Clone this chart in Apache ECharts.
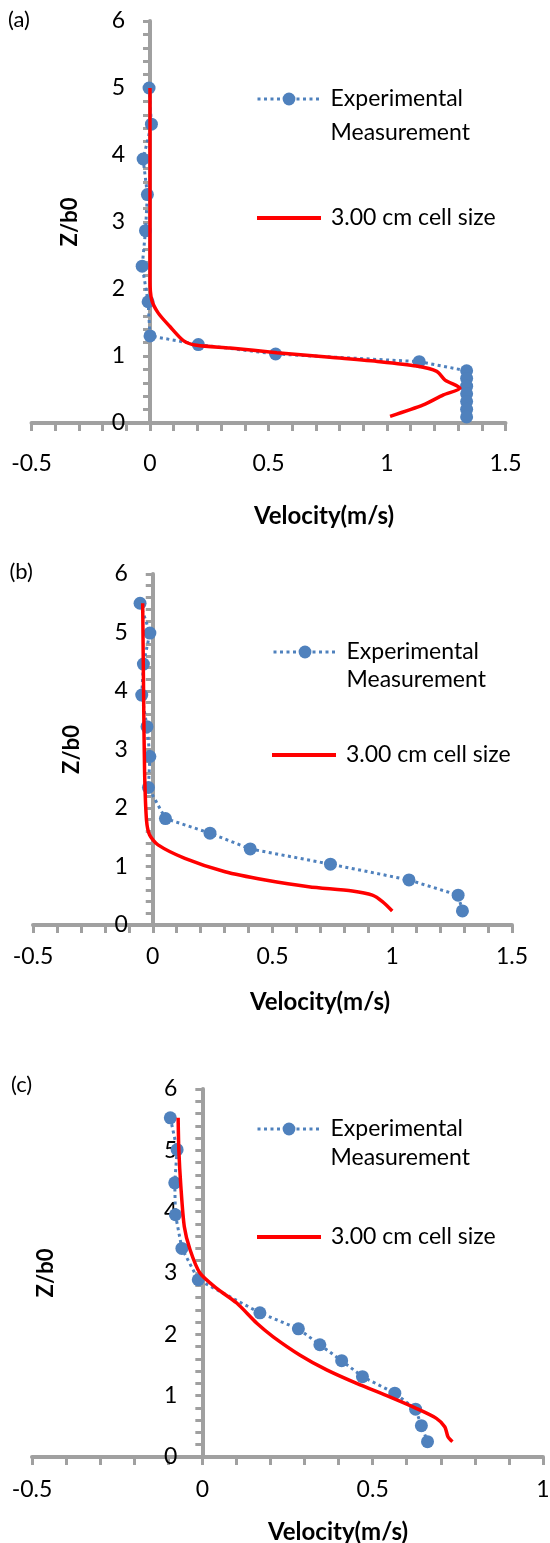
<!DOCTYPE html>
<html>
<head>
<meta charset="utf-8">
<script src="https://cdn.jsdelivr.net/npm/echarts@6/dist/echarts.min.js"></script>
<style>
html,body{margin:0;padding:0;background:#fff;}
#chart{width:550px;height:1543px;}
</style>
</head>
<body>
<div id="chart"></div>
<script>
// ---------------- data ----------------
const panelLabels = ['(a)', '(b)', '(c)'];
const seriesNames = ['Experimental Measurement', '3.00 cm cell size'];
const xTitle = 'Velocity(m/s)';
const yTitle = 'Z/b0';

const xTicksAB = [-0.5, 0, 0.5, 1, 1.5];
const xTicksC = [-0.5, 0, 0.5, 1];
const yTicks = [0, 1, 2, 3, 4, 5, 6];

// panel (a)
const expA_v = [-0.004, 0.006, -0.029, -0.011, -0.019, -0.033, -0.008, 0.0, 0.204, 0.53, 1.136, 1.336, 1.336, 1.336, 1.336, 1.336, 1.336, 1.336];
const expA_z = [5.0, 4.46, 3.94, 3.41, 2.87, 2.34, 1.81, 1.30, 1.17, 1.03, 0.915, 0.78, 0.665, 0.55, 0.435, 0.32, 0.205, 0.09];
const simA_v = [0, 0, 0, 0, 0.007, 0.035, 0.084, 0.141, 0.197, 0.338, 0.535, 0.76, 0.97, 1.125, 1.21, 1.245, 1.308, 1.238, 1.153, 1.013];
const simA_z = [5.0, 4.0, 3.0, 2.13, 1.84, 1.64, 1.44, 1.23, 1.16, 1.12, 1.05, 0.98, 0.915, 0.85, 0.77, 0.64, 0.52, 0.42, 0.27, 0.10];

// panel (b)
const expB_v = [-0.053, -0.012, -0.039, -0.046, -0.024, -0.012, -0.018, 0.053, 0.239, 0.407, 0.742, 1.07, 1.275, 1.293];
const expB_z = [5.50, 4.99, 4.46, 3.93, 3.39, 2.88, 2.35, 1.82, 1.57, 1.30, 1.04, 0.77, 0.51, 0.24];
const simB_v = [-0.042, -0.038, -0.034, -0.026, -0.013, 0.022, 0.134, 0.302, 0.47, 0.651, 0.833, 0.917, 0.959, 1.0];
const simB_z = [5.5, 3.85, 2.6, 1.79, 1.54, 1.37, 1.14, 0.91, 0.77, 0.655, 0.58, 0.51, 0.40, 0.24];

// panel (c)
const expC_v = [-0.094, -0.074, -0.081, -0.079, -0.06, -0.012, 0.169, 0.282, 0.345, 0.409, 0.47, 0.565, 0.626, 0.643, 0.661];
const expC_z = [5.53, 5.01, 4.47, 3.95, 3.40, 2.89, 2.35, 2.09, 1.83, 1.57, 1.31, 1.04, 0.78, 0.51, 0.25];
const simC_v = [-0.071, -0.069, -0.063, -0.053, -0.036, -0.007, 0.042, 0.101, 0.16, 0.208, 0.287, 0.365, 0.453, 0.55, 0.629, 0.687, 0.712, 0.721, 0.734];
const simC_z = [5.53, 5.01, 4.41, 3.76, 3.38, 3.0, 2.75, 2.51, 2.18, 1.96, 1.66, 1.42, 1.20, 0.98, 0.79, 0.63, 0.49, 0.33, 0.25];

// ---------------- styling/layout ----------------
const FONT = 'Lato';
const AXIS_GRAY = '#A0A0A0';
const BLUE = '#4F81BD';
const RED = '#FF0000';

const zip = (a, b) => a.map((v, i) => [v, b[i]]);

const panels = [
  { grid: {left: 31.5, top: 21, width: 474, height: 402}, xTicks: xTicksAB, xLabelMargin: 29,
    xNameGap: 79, xNamePad: 111, yNameGap: 66,
    exp: zip(expA_v, expA_z), sim: zip(simA_v, simA_z),
    title: {left: 8, top: 8},
    leg1: {left: 256, y: 99, lh: 34}, leg2: {left: 257, y: 218} },
  { grid: {left: 33, top: 574, width: 479, height: 351}, xTicks: xTicksAB, xLabelMargin: 20,
    xNameGap: 63, xNamePad: 95, yNameGap: 66.5,
    exp: zip(expB_v, expB_z), sim: zip(simB_v, simB_z),
    title: {left: 9.5, top: 560},
    leg1: {left: 272, y: 652, lh: 28}, leg2: {left: 272, y: 755} },
  { grid: {left: 32, top: 1089, width: 511, height: 368}, xTicks: xTicksC, xLabelMargin: 21,
    xNameGap: 61, xNamePad: 101, yNameGap: 142,
    exp: zip(expC_v, expC_z), sim: zip(simC_v, simC_z),
    title: {left: 11, top: 1073},
    leg1: {left: 256, y: 1129, lh: 29}, leg2: {left: 257, y: 1237} }
];

const option = {
  animation: false,
  backgroundColor: '#ffffff',
  textStyle: {fontFamily: FONT},
  title: [], grid: [], xAxis: [], yAxis: [], series: [], legend: []
};

panels.forEach((p, i) => {
  option.title.push({
    text: panelLabels[i], left: p.title.left, top: p.title.top, padding: 0,
    textStyle: {fontFamily: FONT, fontSize: 22, fontWeight: 'normal', color: '#000', lineHeight: 24}
  });
  option.grid.push(Object.assign({outerBoundsMode: 'none', containLabel: false}, p.grid));
  const xt = p.xTicks;
  const xMin = xt[0], xMax = xt[xt.length - 1];
  // y axis sits where x = 0: shift it from the grid's left edge to that spot
  const yAxisShift = -p.grid.width * (0 - xMin) / (xMax - xMin);
  option.xAxis.push({
    type: 'value', gridIndex: i,
    min: xMin, max: xMax, interval: xt[1] - xt[0],
    axisLine: {show: true, onZero: true, lineStyle: {color: AXIS_GRAY, width: 4}},
    axisTick: {show: true, length: 8, lineStyle: {color: AXIS_GRAY, width: 3}},
    minorTick: {show: true, splitNumber: 5, length: 8, lineStyle: {color: AXIS_GRAY, width: 3}},
    splitLine: {show: false}, minorSplitLine: {show: false},
    axisLabel: {fontFamily: FONT, fontSize: 23, color: '#000', margin: p.xLabelMargin,
      formatter: v => { const k = xt.findIndex(t => Math.abs(t - v) < 1e-9); return k >= 0 ? String(xt[k]) : ''; }},
    name: xTitle, nameLocation: 'middle', nameGap: p.xNameGap, nameMoveOverlap: false,
    nameTextStyle: {fontFamily: FONT, fontSize: 24, fontWeight: 'bold', color: '#000', lineHeight: 28,
      padding: [0, 0, 0, p.xNamePad]}
  });
  option.yAxis.push({
    type: 'value', gridIndex: i, position: 'left', offset: yAxisShift,
    min: yTicks[0], max: yTicks[yTicks.length - 1], interval: yTicks[1] - yTicks[0],
    axisLine: {show: true, onZero: false, lineStyle: {color: AXIS_GRAY, width: 4}},
    axisTick: {show: true, length: 7, lineStyle: {color: AXIS_GRAY, width: 3}},
    minorTick: {show: true, splitNumber: 5, length: 7, lineStyle: {color: AXIS_GRAY, width: 3}},
    splitLine: {show: false}, minorSplitLine: {show: false},
    axisLabel: {fontFamily: FONT, fontSize: 23, color: '#000', margin: 25},
    name: yTitle, nameLocation: 'middle', nameRotate: 90, nameGap: p.yNameGap, nameMoveOverlap: false,
    nameTextStyle: {fontFamily: FONT, fontSize: 22, fontWeight: 'bold', color: '#000', lineHeight: 28}
  });
  option.series.push({
    type: 'line', name: seriesNames[0], xAxisIndex: i, yAxisIndex: i,
    data: p.exp, symbol: 'circle', symbolSize: 13, showAllSymbol: true,
    itemStyle: {color: BLUE},
    lineStyle: {color: BLUE, width: 3, type: [3, 3.5]},
    z: 3
  });
  option.series.push({
    type: 'line', name: seriesNames[1], xAxisIndex: i, yAxisIndex: i,
    data: p.sim, symbol: 'none', smooth: 0.25,
    itemStyle: {color: RED},
    lineStyle: {color: RED, width: 3.5},
    z: 4
  });
  const L = p.leg1.lh;
  option.legend.push({
    data: [seriesNames[0]], left: p.leg1.left, top: p.leg1.y - 1.5 * L, padding: 0,
    itemWidth: 63, itemHeight: 16, selectedMode: false,
    lineStyle: {width: 3},
    formatter: () => '\nExperimental\nMeasurement',
    textStyle: {fontFamily: FONT, fontSize: 23, color: '#000', lineHeight: L, padding: [0, 0, 0, 5]}
  });
  option.legend.push({
    data: [{name: seriesNames[1], icon: 'rect'}], left: p.leg2.left, top: p.leg2.y - 14, padding: 0,
    itemWidth: 64, itemHeight: 4, selectedMode: false,
    itemStyle: {color: RED, borderWidth: 0},
    textStyle: {fontFamily: FONT, fontSize: 23, color: '#000', lineHeight: 28, padding: [0, 0, 0, 5]}
  });
});

const chart = echarts.init(document.getElementById('chart'), null, {renderer: 'canvas', width: 550, height: 1543});
chart.setOption(option);
</script>
</body>
</html>
